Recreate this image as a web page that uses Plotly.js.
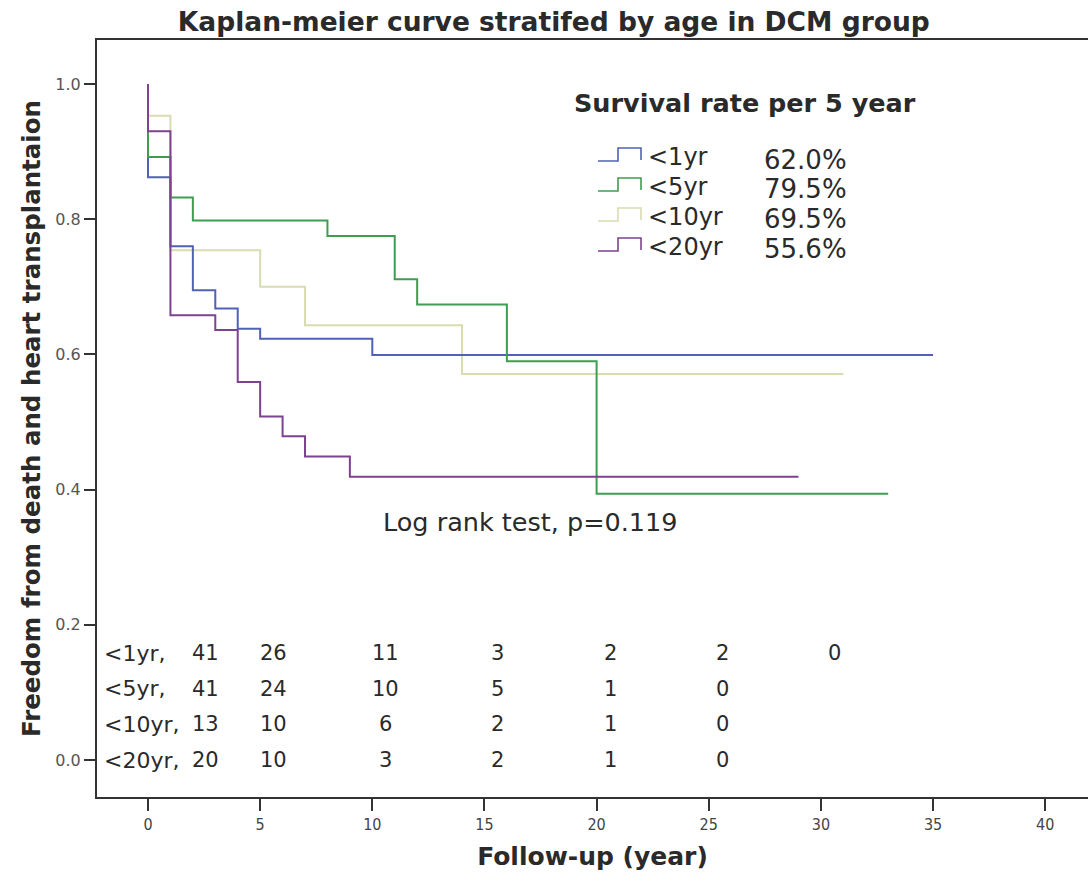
<!DOCTYPE html>
<html>
<head>
<meta charset="utf-8">
<script src="https://cdn.plot.ly/plotly-3.0.1.min.js"></script>
<style>html,body{margin:0;padding:0;background:#fff;}#chart{width:1088px;height:881px;}</style>
</head>
<body>
<div id="chart"></div>
<script>
// ---- data ----
const groupNames = ["<1yr", "<5yr", "<10yr", "<20yr"];
const survival5yr = ["62.0%", "79.5%", "69.5%", "55.6%"];

const t_lt1 = [0, 0, 1, 2, 3, 4, 5, 10, 35];
const s_lt1 = [1.0, 0.862, 0.760, 0.695, 0.668, 0.638, 0.623, 0.599, 0.599];

const t_lt5 = [0, 0, 1, 2, 8, 11, 12, 16, 20, 33];
const s_lt5 = [1.0, 0.892, 0.832, 0.798, 0.775, 0.711, 0.674, 0.590, 0.394, 0.394];

const t_lt10 = [0, 0, 1, 5, 7, 14, 31];
const s_lt10 = [1.0, 0.953, 0.754, 0.700, 0.643, 0.571, 0.571];

const t_lt20 = [0, 0, 1, 3, 4, 5, 6, 7, 9, 29];
const s_lt20 = [1.0, 0.930, 0.658, 0.636, 0.559, 0.508, 0.479, 0.449, 0.419, 0.419];

const riskTimes = [0, 5, 10, 15, 20, 25, 30];
const risk_lt1 = [41, 26, 11, 3, 2, 2, 0];
const risk_lt5 = [41, 24, 10, 5, 1, 0];
const risk_lt10 = [13, 10, 6, 2, 1, 0];
const risk_lt20 = [20, 10, 3, 2, 1, 0];

const xTicks = [0, 5, 10, 15, 20, 25, 30, 35, 40];
const yTicks = [0.0, 0.2, 0.4, 0.6, 0.8, 1.0];

// ---- styling ----
const colors = ["#5162b4", "#3f9d52", "#d9dbb0", "#7d4290"];
const FONT = "'DejaVu Sans', sans-serif";
const FONTC = "'DejaVu Sans Condensed', 'DejaVu Sans', sans-serif";
const TXT = "#2a2a2a";

// pixel -> paper helpers (plot area: x 97..1088, y 40..797)
const L = 97, R = 0, T = 40, B = 84, W = 1088, H = 881;
const PW = W - L - R, PH = H - T - B;
const px = v => (v - L) / PW;
const py = v => (H - B - v) / PH;

const times = [t_lt1, t_lt5, t_lt10, t_lt20];
const survs = [s_lt1, s_lt5, s_lt10, s_lt20];
const risks = [risk_lt1, risk_lt5, risk_lt10, risk_lt20];

const drawOrder = [2, 0, 1, 3];
const traces = drawOrder.map(i => ({
  type: "scatter", mode: "lines",
  x: times[i], y: survs[i],
  name: groupNames[i],
  line: {shape: "hv", color: colors[i], width: 2},
  showlegend: false, hoverinfo: "x+y+name"
}));

const annotations = [];
const shapes = [];

// legend heading
annotations.push({xref: "paper", yref: "paper", x: px(572), y: py(103), xanchor: "left", yanchor: "middle",
  text: "<b>Survival rate per 5 year</b>", showarrow: false, font: {family: FONT, size: 25.5, color: TXT}});

groupNames.forEach((g, i) => {
  const base = 161 + 30 * i, top = base - 13;
  shapes.push({type: "path", xref: "paper", yref: "paper",
    path: `M ${px(598)} ${py(base)} L ${px(618)} ${py(base)} L ${px(618)} ${py(top)} L ${px(641)} ${py(top)} L ${px(641)} ${py(base - 1)}`,
    line: {color: colors[i], width: 1.6}});
  annotations.push({xref: "paper", yref: "paper", x: px(646), y: py(157 + 30 * i), xanchor: "left", yanchor: "middle",
    text: "&lt;" + g.slice(1), showarrow: false, font: {family: FONT, size: 24, color: TXT}});
  annotations.push({xref: "paper", yref: "paper", x: px(762), y: py(160 + 29.5 * i), xanchor: "left", yanchor: "middle",
    text: survival5yr[i], showarrow: false, font: {family: FONT, size: 26, color: TXT}});
});

// log rank
annotations.push({xref: "paper", yref: "paper", x: px(381), y: py(522), xanchor: "left", yanchor: "middle",
  text: "Log rank test, p=0.119", showarrow: false, font: {family: FONT, size: 25.5, color: TXT}});

// number at risk table
risks.forEach((row, i) => {
  const yPix = 653 + 35.7 * i;
  annotations.push({xref: "paper", yref: "paper", x: px(102), y: py(yPix), xanchor: "left", yanchor: "middle",
    text: "&lt;" + groupNames[i].slice(1) + ",", showarrow: false, font: {family: FONT, size: 22, color: TXT}});
  row.forEach((n, j) => {
    const t = riskTimes[j];
    const xPos = t === 0 ? 2.55 : t + 0.6;
    annotations.push({xref: "x", yref: "paper", x: xPos, y: py(yPix), xanchor: "center", yanchor: "middle",
      text: String(n), showarrow: false, font: {family: FONT, size: 21, color: TXT}});
  });
});

const xRange = [-(148 - L) / 22.43, -(148 - L) / 22.43 + PW / 22.43];
const yPerUnit = 676;
const yRange = [-(H - B - 760) / yPerUnit, -(H - B - 760) / yPerUnit + PH / yPerUnit];

const layout = {
  width: W, height: H,
  margin: {l: L, r: R, t: T, b: B, pad: 0},
  paper_bgcolor: "#fff", plot_bgcolor: "#fff",
  title: {text: "<b>Kaplan-meier curve stratifed by age in DCM group</b>",
    x: 0.509, xanchor: "center", y: 1 - 22 / H, yanchor: "middle",
    font: {family: FONT, size: 26.5, color: TXT}},
  xaxis: {range: xRange, tickvals: xTicks, ticktext: xTicks.map(String),
    showgrid: false, zeroline: false, showline: true, mirror: true, linecolor: "#333", linewidth: 2,
    ticks: "outside", ticklen: 12, tickwidth: 1.5, tickcolor: "#333",
    tickfont: {family: FONTC, size: 16, color: "#444"},
    title: {text: "<b>Follow-up (year)</b>", font: {family: FONT, size: 25, color: TXT}, standoff: 14}},
  yaxis: {range: yRange, tickvals: yTicks, ticktext: yTicks.map(v => v.toFixed(1)),
    showgrid: false, zeroline: false, showline: true, linecolor: "#333", linewidth: 2,
    ticks: "outside", ticklen: 11, tickwidth: 1.5, tickcolor: "#333",
    tickfont: {family: FONT, size: 16, color: "#555"},
    title: {text: "<b>Freedom from death and heart transplantaion</b>", font: {family: FONT, size: 24.5, color: TXT}, standoff: 8}},
  annotations: annotations,
  shapes: shapes,
  showlegend: false
};

Plotly.newPlot("chart", traces, layout, {displayModeBar: false, responsive: false});
</script>
</body>
</html>
